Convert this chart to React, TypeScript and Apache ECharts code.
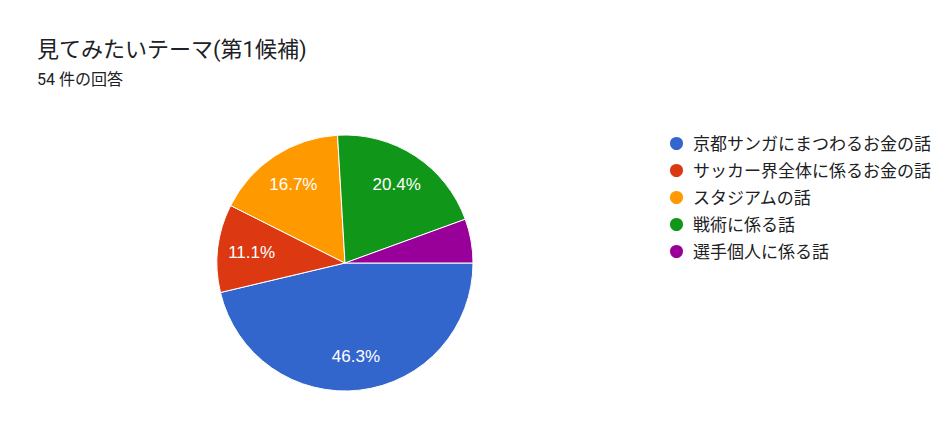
import { useEffect, useRef } from 'react';
import * as echarts from 'echarts';

const categories = [
  '京都サンガにまつわるお金の話',
  'サッカー界全体に係るお金の話',
  'スタジアムの話',
  '戦術に係る話',
  '選手個人に係る話',
];
const counts = [25, 6, 9, 11, 3];
const colors = ['#3366cc', '#dc3912', '#ff9900', '#109618', '#990099'];

const FONT = 'Roboto, "Noto Sans CJK JP", sans-serif';

export default function App() {
  const chartRef = useRef<HTMLDivElement>(null);

  useEffect(() => {
    const chart = echarts.init(chartRef.current, null, { renderer: 'svg' });
    const total = counts.reduce((a, b) => a + b, 0);
    const data = categories.map((name, i) => ({
      name,
      value: counts[i],
      itemStyle: { color: colors[i] },
    }));

    chart.setOption({
      animation: false,
      title: [
        {
          text: '見てみたいテーマ(第1候補)',
          left: 37,
          top: 38,
          padding: 0,
          textStyle: { fontFamily: FONT, fontSize: 22, fontWeight: 'normal', color: '#202124' },
        },
        {
          text: `${total} 件の回答`,
          left: 37,
          top: 71,
          padding: 0,
          textStyle: { fontFamily: FONT, fontSize: 16, fontWeight: 'normal', color: '#202124' },
        },
      ],
      legend: {
        orient: 'vertical',
        left: 663,
        top: 130,
        icon: 'circle',
        itemWidth: 15,
        itemHeight: 15,
        itemGap: 10,
        selectedMode: false,
        data: categories,
        textStyle: {
          fontFamily: FONT,
          fontSize: 17,
          lineHeight: 17,
          color: '#202124',
          padding: [0, 0, 0, 4],
        },
      },
      series: [
        {
          type: 'pie',
          center: [345, 263],
          radius: 128,
          startAngle: 0,
          clockwise: true,
          label: { show: false },
          labelLine: { show: false },
          itemStyle: { borderColor: '#fff', borderWidth: 1 },
          emphasis: { disabled: true },
          data,
        },
        {
          type: 'pie',
          center: [345, 263],
          radius: [54, 128],
          startAngle: 0,
          clockwise: true,
          silent: true,
          percentPrecision: 1,
          legendHoverLink: false,
          itemStyle: { color: 'transparent' },
          label: {
            show: true,
            position: 'inside',
            color: '#fff',
            fontFamily: '"Liberation Sans", Arial, sans-serif',
            fontSize: 17,
            formatter: (p: any) => (p.percent < 8 ? '' : `${p.percent.toFixed(1)}%`),
          },
          labelLine: { show: false },
          emphasis: { disabled: true },
          data: categories.map((name, i) => ({ name: name + ' ', value: counts[i] })),
        },
      ],
    });

    return () => {
      chart.dispose();
    };
  }, []);

  return (
    <div
      ref={chartRef}
      style={{ position: 'absolute', left: 0, top: 0, width: '932px', height: '440px', background: '#fff' }}
    />
  );
}
